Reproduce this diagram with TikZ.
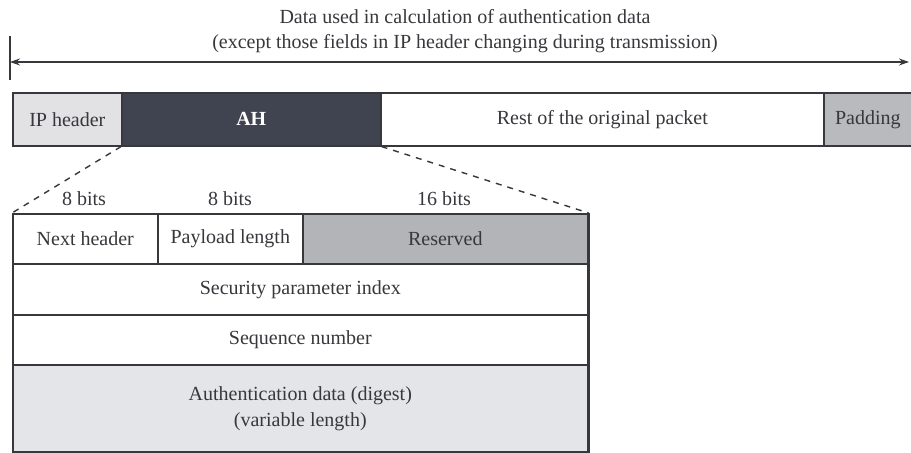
\documentclass[tikz,border=0pt]{standalone}
\usepackage{fontspec}
\setmainfont{Liberation Serif}
\usepackage{tikz}
\usetikzlibrary{arrows.meta,positioning,calc}

\definecolor{ahdark}{RGB}{64,68,80}
\definecolor{iplight}{RGB}{226,226,228}
\definecolor{rsvgray}{RGB}{178,180,184}
\definecolor{padgray}{RGB}{184,186,190}
\definecolor{authlight}{RGB}{228,229,232}
\definecolor{inkgray}{RGB}{55,55,60}

\tikzset{
  field/.style={draw=inkgray,line width=0.8pt,rectangle,inner sep=0pt,
    anchor=north west,text=inkgray},
  bitlabel/.style={text=inkgray,inner sep=1pt},
}

\begin{document}
\begin{tikzpicture}[x=0.5pt,y=-0.5pt,font=\normalsize,>={Stealth[length=5pt,width=3.5pt]}]
\useasboundingbox (0,0) rectangle (911,453);
% caption and span arrow
\node[text=inkgray,align=center,inner sep=0pt] (title) at (465,31)
  {Data used in calculation of authentication data\\[0.5pt]
   (except those fields in IP header changing during transmission)};
\coordinate (al) at (10,62);
\coordinate (ar) at (909,62);
\coordinate (tt) at (10,36);
\coordinate (tb) at (10,80);
\draw[inkgray,line width=0.7pt] (tt) -- (tb);
\draw[inkgray,line width=0.7pt,<->] (al) -- (ar);
% packet
\node[field,fill=iplight,minimum width=54.5pt,minimum height=26.5pt] (ip) at (12,92) {IP header};
\node[field,fill=ahdark,text=white,minimum width=129.5pt,minimum height=26.5pt] (ah) at (121,92) {\bfseries AH};
\node[field,fill=white,minimum width=221.5pt,minimum height=26.5pt] (rest) at (380,92) {Rest of the original packet};
\node[field,fill=padgray,minimum width=44pt,minimum height=26.5pt] (pad) at (823,92) {Padding};
% AH layout
\node[field,minimum width=72.5pt,minimum height=25pt] (nh) at (12,213) {Next header};
\node[field,minimum width=72.5pt,minimum height=25pt] (pl) at (157,213) {Payload length};
\node[field,fill=rsvgray,minimum width=142.5pt,minimum height=25pt] (rsv) at (302,213) {Reserved};
\node[field,minimum width=287.5pt,minimum height=25.5pt] (spi) at (12,263) {Security parameter index};
\node[field,minimum width=287.5pt,minimum height=25pt] (seq) at (12,314) {Sequence number};
\node[field,fill=authlight,minimum width=287.5pt,minimum height=43.5pt,align=center] (auth) at (12,364)
  {Authentication data (digest)\\[1pt](variable length)};
\draw[inkgray,line width=1.5pt] (rsv.north east) -- (auth.south east);
% expansion lines
\draw[inkgray,dashed,line width=0.7pt] (ah.south west) -- (nh.north west);
\draw[inkgray,dashed,line width=0.7pt] (ah.south east) -- (rsv.north east);
% field widths
\node[bitlabel] (b1) at (84,199) {8 bits};
\node[bitlabel] (b2) at (230,199) {8 bits};
\node[bitlabel] (b3) at (444,199) {16 bits};
\end{tikzpicture}
\end{document}
